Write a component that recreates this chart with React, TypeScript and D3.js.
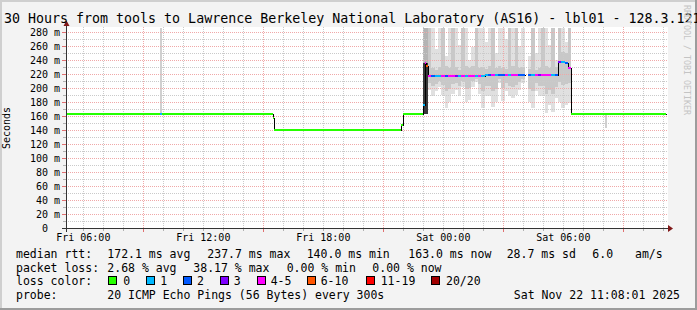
import React from 'react';
import * as d3 from 'd3';

const W = 697;
const H = 310;
const startH = 5 + 8 / 60 + 1 / 3600; // Fri 05:08:01 (hours from Fri 00:00)
const endH = startH + 30;
const yTop = 285.7;

const titleText = '30 Hours from tools to Lawrence Berkeley National Laboratory (AS16) - lbl01 - 128.3.121.64';
const yAxisTitle = 'Seconds';
const watermark = 'RRDTOOL / TOBI OETIKER';

const xLabelHours = [6, 12, 18, 24, 30];
const xLabelText = ['Fri 06:00', 'Fri 12:00', 'Fri 18:00', 'Sat 00:00', 'Sat 06:00'];
const xMajorHours = [9, 15, 21, 27, 33];
const yLabelValues = [0, 20, 40, 60, 80, 100, 120, 140, 160, 180, 200, 220, 240, 260, 280];

// flat median segments (hours, ms, loss count)
const segStart = [startH, 9.85, 9.95, 15.47, 15.55, 21.88, 21.97, 22.98, 23.06, 23.14, 30.397];
const segEnd = [9.85, 9.95, 15.47, 15.55, 21.88, 21.97, 22.98, 23.06, 23.14, 23.23, endH];
const segMs = [163, 163, 163, 157, 140, 147, 163, 176, 235, 231, 163];
const segLoss = [0, 1, 0, 0, 0, 0, 0, 1, 4, 6, 0];

// 10-minute smoke columns starting at 23:14
const colFirst = 23.23;
const colHours = 1 / 6;
const colMedian = [
  217, 217, 217, 217, 217, 217, 217, 217, 217, 217, 217, 217, 217, 217, 217, 217, 217,
  219, 219, 219, 219, 219, 219, 219, 219, 219, 219, 219, 219,
  NaN,
  218, 218, 218, 218, 218, 218, 218, 218, 218,
  237.7, 237, 236, 229,
];
const colLoss = [
  4, 2, 1, 1, 4, 2, 4, 4, 3, 1, 4, 1, 4, 4, 1, 4, 1, 1, 2, 4, 1, 2, 2, 4, 1, 4, 4, 2, 2,
  0,
  2, 1, 4, 3, 4, 4, 4, 1, 2,
  3, 1, 2, 4,
];
const colMin = [
  197, 188, 195, 202, 190, 171, 180, 192, 197, 188,
  202, 180, 183, 202, 209, 192, 171, 188, 188, 173,
  180, 207, 182, 195, 188, 185, 190, 197, 207, NaN,
  180, 171, 195, 188, 188, 164, 176, 166, 185,
  180, 171, 175, 178,
];
const colMax = [
  300, 300, 255, 300, 300, 245, 300, 300, 300, 262,
  300, 300, 240, 258, 300, 300, 300, 265, 300, 300,
  250, 300, 300, 270, 300, 300, 300, 260, 300, NaN,
  245, 300, 250, 300, 300, 300, 262, 300, 240,
  300, 300, 265, 300,
];
const colInnerLo = [
  207, 203, 206, 210, 204, 195, 199, 205, 207, 203,
  210, 199, 200, 210, 213, 205, 195, 203, 203, 196,
  199, 213, 200, 207, 203, 202, 204, 208, 213, NaN,
  199, 195, 207, 203, 203, 191, 197, 192, 202,
  208, 204, 206, 207,
];
const colInnerHi = [
  300, 228, 226, 230, 300, 232, 228, 300, 230, 226,
  300, 231, 228, 232, 300, 229, 230, 227, 231, 300,
  228, 232, 229, 227, 300, 231, 300, 228, 230, NaN,
  227, 300, 226, 229, 300, 231, 228, 300, 230,
  300, 252, 250, 300,
];

// isolated smoke
const spikeStart = [9.85, 22.98, 32.08];
const spikeEnd = [9.95, 23.23, 32.18];
const spikeLo = [163, 236, 143];
const spikeHi = [300, 300, 163];
const darkStart = [22.98];
const darkEnd = [23.23];
const darkLo = [163];
const darkHi = [236];

const lossColors = ['#26ff00', '#00b8ff', '#0059ff', '#7e00ff', '#ff00ff', '#ff5500', '#ff0000', '#a10000'];
const lossLabels = ['0', '1', '2', '3', '4-5', '6-10', '11-19', '20/20'];
const lossLabelX = [123.3, 160.3, 197, 233.7, 270.7, 320.7, 380.7, 446];
const lossBoxX = [108, 145.5, 182.5, 220, 256.5, 306.5, 365.5, 430.5];

const medianRow = [
  ['median rtt:', 16], ['172.1 ms avg', 107.3], ['237.7 ms max', 207.3], ['140.0 ms min', 306.7],
  ['163.0 ms now', 408.3], ['28.7 ms sd', 506.7], ['6.0', 592.3], ['am/s', 635],
];
const lossRow = [
  ['packet loss:', 16], ['2.68 % avg', 107.3], ['38.17 % max', 193.3], ['0.00 % min', 286.7], ['0.00 % now', 372.3],
];
const probeRow = [['probe:', 16], ['20 ICMP Echo Pings (56 Bytes) every 300s', 107.3]];
const dateText = 'Sat Nov 22 11:08:01 2025';

function lossIdx(l: number) {
  if (l <= 3) return l;
  if (l <= 5) return 4;
  if (l <= 10) return 5;
  if (l <= 19) return 6;
  return 7;
}

const MONO = "'DejaVu Sans Mono', monospace";

export default function App() {
  const xs = d3.scaleLinear().domain([startH, endH]).range([66, 666]);
  const ys = d3.scaleLinear().domain([0, yTop]).range([228, 28]);
  const X = (h: number) => Math.round(xs(h));
  const Y = (v: number) => Math.round(ys(Math.min(v, yTop)));

  type Seg = { h0: number; h1: number; v: number; loss: number };
  const med: Seg[] = [];
  segStart.forEach((s, i) => med.push({ h0: s, h1: segEnd[i], v: segMs[i], loss: segLoss[i] }));
  colMedian.forEach((v, i) =>
    med.push({ h0: colFirst + i * colHours, h1: colFirst + (i + 1) * colHours, v, loss: colLoss[i] })
  );
  med.sort((a, b) => a.h0 - b.h0);

  let path = '';
  let prev: Seg | null = null;
  med.forEach((s) => {
    if (isNaN(s.v)) { prev = null; return; }
    const x0 = X(s.h0) + 0.5, x1 = X(s.h1) + 0.5, y = Y(s.v) + 0.5;
    if (prev) path += `L${x0},${y}L${x1},${y}`;
    else path += `M${x0},${y}L${x1},${y}`;
    prev = s;
  });

  const hours = d3.range(6, 36);
  const minorH = d3.range(10, 290, 10).filter((v) => v % 20 !== 0);
  const majorH = d3.range(20, 290, 20);

  const cols = colMedian.map((_, i) => ({ h0: colFirst + i * colHours, h1: colFirst + (i + 1) * colHours }));

  return (
    <svg width={W} height={H} style={{ position: 'absolute', left: 0, top: 0 }} fontFamily={MONO}>
      <rect x={0} y={0} width={W} height={H} fill="#f3f3f3" />
      <rect x={0} y={0} width={W} height={2} fill="#cfcfcf" />
      <rect x={0} y={0} width={2} height={H} fill="#cfcfcf" />
      <rect x={0} y={H - 2} width={W} height={2} fill="#9c9c9c" />
      <rect x={W - 2} y={0} width={2} height={H} fill="#9c9c9c" />

      <rect x={66} y={27} width={602} height={201} fill="#ffffff" />

      {/* smoke */}
      <g shapeRendering="crispEdges">
        {spikeStart.map((s, i) => (
          <rect key={'sp' + i} x={X(s)} width={Math.max(1, X(spikeEnd[i]) - X(s))}
            y={Y(spikeHi[i])} height={Y(spikeLo[i]) - Y(spikeHi[i])} fill={i === 1 ? '#b4b4b4' : '#d0d0d0'} />
        ))}
        {cols.map((c, i) => isNaN(colMin[i]) ? null : (
          <rect key={'o' + i} x={X(c.h0)} width={X(c.h1) - X(c.h0)} y={Y(colMax[i])}
            height={Y(colMin[i]) - Y(colMax[i])} fill="#e0e0e0" />
        ))}
        {cols.map((c, i) => isNaN(colInnerLo[i]) ? null : (
          <rect key={'n' + i} x={X(c.h0)} width={X(c.h1) - X(c.h0)} y={Y(colInnerHi[i])}
            height={Y(colInnerLo[i]) - Y(colInnerHi[i])} fill="#c8c8c8" />
        ))}
      </g>

      {/* grid */}
      <g strokeWidth={1} strokeDasharray="1,1" shapeRendering="crispEdges">
        {minorH.map((v) => (
          <line key={'hm' + v} x1={66} x2={668} y1={Y(v) + 0.5} y2={Y(v) + 0.5} stroke="#cacaca" />
        ))}
        {hours.filter((h) => !xMajorHours.includes(h)).map((h) => (
          <line key={'vm' + h} x1={X(h) + 0.5} x2={X(h) + 0.5} y1={27} y2={228} stroke="#cacaca" />
        ))}
        {majorH.map((v) => (
          <line key={'hM' + v} x1={66} x2={668} y1={Y(v) + 0.5} y2={Y(v) + 0.5} stroke="#f0a8a8" />
        ))}
        {xMajorHours.map((h) => (
          <line key={'vM' + h} x1={X(h) + 0.5} x2={X(h) + 0.5} y1={27} y2={228} stroke="#f0a8a8" />
        ))}
      </g>

      <g shapeRendering="crispEdges">
        {darkStart.map((s, i) => (
          <rect key={'dk' + i} x={X(s)} width={X(darkEnd[i]) - X(s)} y={Y(darkHi[i])}
            height={Y(darkLo[i]) - Y(darkHi[i])} fill="#383838" />
        ))}
      </g>

      {/* ticks */}
      <g shapeRendering="crispEdges">
        {hours.map((h) => (
          <line key={'tx' + h} x1={X(h) + 0.5} x2={X(h) + 0.5} y1={228} y2={xMajorHours.includes(h) ? 232 : 231}
            stroke={xMajorHours.includes(h) ? '#e07070' : '#b0b0b0'} />
        ))}
        {minorH.map((v) => (
          <line key={'ty' + v} x1={63} x2={66} y1={Y(v) + 0.5} y2={Y(v) + 0.5} stroke="#b0b0b0" />
        ))}
        {majorH.map((v) => (
          <line key={'tY' + v} x1={62} x2={66} y1={Y(v) + 0.5} y2={Y(v) + 0.5} stroke="#e07070" />
        ))}
      </g>

      {/* median */}
      <path d={path} fill="none" stroke="#000000" strokeWidth={1} shapeRendering="crispEdges" />
      <g shapeRendering="crispEdges">
        {med.filter((s) => !isNaN(s.v)).map((s, i) => (
          <line key={'m' + i} x1={X(s.h0)} x2={X(s.h1)} y1={Y(s.v)} y2={Y(s.v)}
            stroke={lossColors[lossIdx(s.loss)]} strokeWidth={2} />
        ))}
      </g>

      {/* axes */}
      <g shapeRendering="crispEdges">
        <line x1={62} x2={669} y1={228.5} y2={228.5} stroke="#333" />
        <line x1={66.5} x2={66.5} y1={232} y2={25} stroke="#333" />
      </g>
      <path d="M668,225 L673,228.5 L668,232 Z" fill="#801818" />
      <path d="M63.5,26 L66.5,20.5 L69.5,26 Z" fill="#801818" />

      {/* labels */}
      <g fontSize={10} fill="#000">
        {yLabelValues.map((v) => (
          <text key={'yl' + v} x={v === 0 ? 48 : 60} y={Y(v) + 4} textAnchor="end">
            {v === 0 ? '0' : `${v} m`}
          </text>
        ))}
        {xLabelHours.map((h, i) => (
          <text key={'xl' + h} x={xs(h)} y={241} textAnchor="middle">{xLabelText[i]}</text>
        ))}
        <text transform="translate(10,128) rotate(-90)" textAnchor="middle">{yAxisTitle}</text>
      </g>

      <text x={4} y={23} fontSize={13.3} fill="#000">{titleText}</text>
      <text transform="translate(684,5) rotate(90)" fontSize={8.3} fill="#c4c4c4">{watermark}</text>

      <g fontSize={11.5} fill="#000">
        {medianRow.map(([t, x], i) => (
          <text key={'r1' + i} x={x as number} y={258}>{t}</text>
        ))}
        {lossRow.map(([t, x], i) => (
          <text key={'r2' + i} x={x as number} y={271.5}>{t}</text>
        ))}
        <text x={16} y={285}>loss color:</text>
        {lossLabels.map((l, i) => (
          <g key={'lc' + i}>
            <rect x={lossBoxX[i] + 0.5} y={276.5} width={8} height={8} fill={lossColors[i]} stroke="#000" strokeWidth={1}
              shapeRendering="crispEdges" />
            <text x={lossLabelX[i]} y={285}>{l}</text>
          </g>
        ))}
        {probeRow.map(([t, x], i) => (
          <text key={'r4' + i} x={x as number} y={298.5}>{t}</text>
        ))}
        <text x={680} y={298.5} textAnchor="end">{dateText}</text>
      </g>
    </svg>
  );
}
